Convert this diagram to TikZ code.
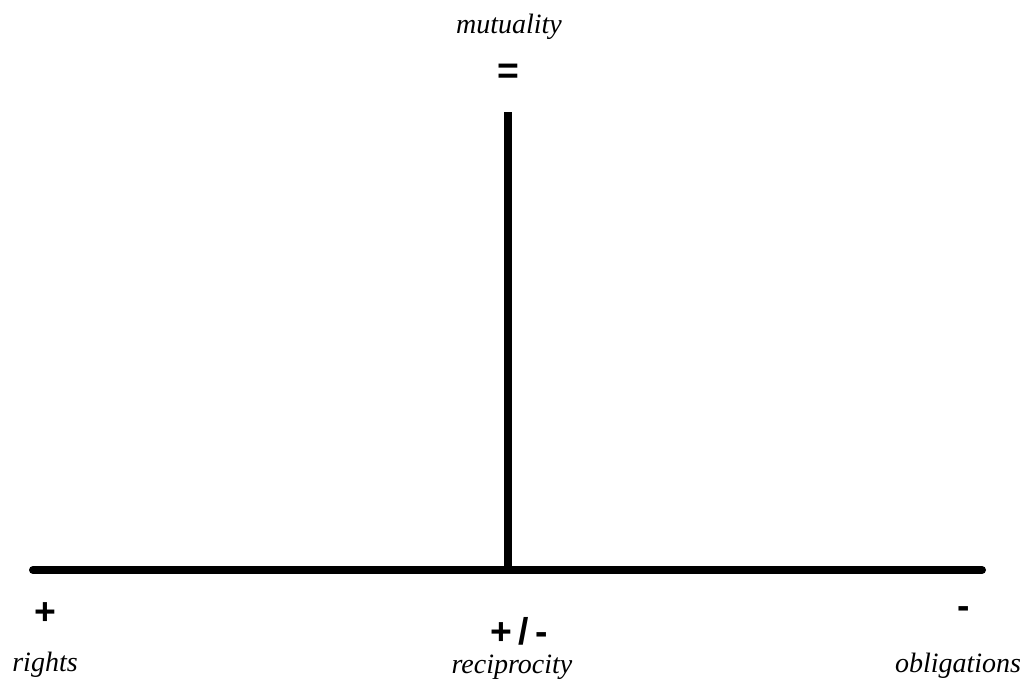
\documentclass[tikz,border=0pt]{standalone}
\usepackage{fontspec}
\setmainfont{Liberation Serif}
\setsansfont{Liberation Sans}
\usetikzlibrary{positioning}

\begin{document}
\begin{tikzpicture}[
    x=0.75pt,
    y=-0.75pt,
    axis/.style={line width=6pt,line cap=round},
    term/.style={font=\fontsize{21}{24}\selectfont\itshape},
    sign/.style={font=\fontsize{28}{30}\selectfont\sffamily\bfseries}
    ]
    
    % moldura
    \useasboundingbox (0,0) rectangle (1036,682);
    
    % pontos das linhas
    \coordinate (left) at (33,570);
    \coordinate (right) at (982,570);
    \coordinate (top) at (508,112);
    \coordinate (foot) at (508,570);
    
    % linhas
    \draw[axis] (left)--(right);
    \draw[axis,line cap=butt] (top)--(foot);
    
    % topo
    \node[term] (mutuality) at (509,27) {mutuality};
    \node[sign] (equal) at (508,74) {=};
    
    % esquerda
    \node[sign] (plus) at (45,614) {+};
    \node[term] (rights) at (45,665) {rights};
    
    % centro
    \node[sign] (both) at (519,631) {+\,/\,-};
    \node[term] (reciprocity) at (512,667) {reciprocity};
    
    % direita
    \node[sign] (minus) at (964,613) {-};
    \node[term] (obligations) at (958,666) {obligations};
    
    \end{tikzpicture}
\end{document}
